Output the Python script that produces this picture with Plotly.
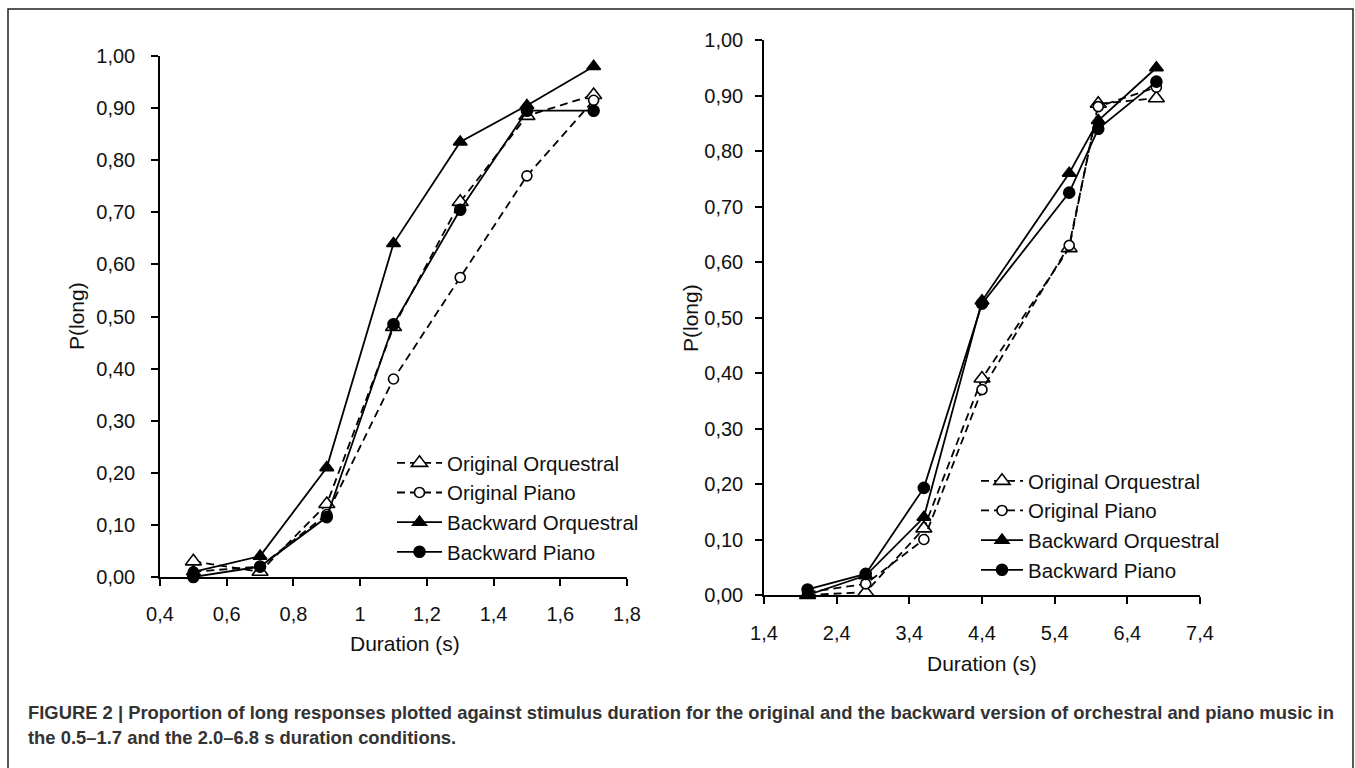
import plotly.graph_objects as go

W, H = 1355, 768

# ---------------- data ----------------
short_durations = [0.5, 0.7, 0.9, 1.1, 1.3, 1.5, 1.7]
short_orig_orq = [0.03, 0.01, 0.14, 0.48, 0.72, 0.885, 0.925]
short_orig_piano = [0.01, 0.02, 0.12, 0.38, 0.575, 0.77, 0.915]
short_back_orq = [0.01, 0.04, 0.21, 0.64, 0.835, 0.905, 0.98]
short_back_piano = [0.0, 0.02, 0.115, 0.485, 0.705, 0.895, 0.895]

long_durations = [2.0, 2.8, 3.6, 4.4, 5.6, 6.0, 6.8]
long_orig_orq = [0.0, 0.005, 0.12, 0.39, 0.625, 0.885, 0.895]
long_orig_piano = [0.005, 0.02, 0.10, 0.37, 0.63, 0.88, 0.915]
long_back_orq = [0.0, 0.035, 0.14, 0.53, 0.76, 0.855, 0.95]
long_back_piano = [0.01, 0.038, 0.193, 0.525, 0.725, 0.84, 0.925]

series_names = ["Original Orquestral", "Original Piano", "Backward Orquestral", "Backward Piano"]

left_xticks = [0.4, 0.6, 0.8, 1.0, 1.2, 1.4, 1.6, 1.8]
left_xticktext = ["0,4", "0,6", "0,8", "1", "1,2", "1,4", "1,6", "1,8"]
right_xticks = [1.4, 2.4, 3.4, 4.4, 5.4, 6.4, 7.4]
right_xticktext = ["1,4", "2,4", "3,4", "4,4", "5,4", "6,4", "7,4"]
yticks = [0.0, 0.1, 0.2, 0.3, 0.4, 0.5, 0.6, 0.7, 0.8, 0.9, 1.0]
yticktext = ["0,00", "0,10", "0,20", "0,30", "0,40", "0,50", "0,60", "0,70", "0,80", "0,90", "1,00"]

caption_line1 = ("FIGURE 2 | Proportion of long responses plotted against stimulus duration for the original "
                 "and the backward version of orchestral and piano music in")
caption_line2 = "the 0.5–1.7 and the 2.0–6.8 s duration conditions."

# ---------------- styles ----------------
FONT = "Liberation Sans, Arial, Helvetica, sans-serif"
styles = [
    dict(dash="8px,5px", symbol="triangle-up", size=14, fill="white"),
    dict(dash="8px,5px", symbol="circle", size=10, fill="white"),
    dict(dash="solid", symbol="triangle-up", size=12, fill="black"),
    dict(dash="solid", symbol="circle", size=11, fill="black"),
]

fig = go.Figure()

def add_series(xs, ys, idx, xaxis, yaxis, legend):
    st = styles[idx]
    fig.add_trace(go.Scatter(
        x=xs, y=ys, mode="lines+markers", name=series_names[idx],
        xaxis=xaxis, yaxis=yaxis, legend=legend,
        line=dict(color="black", width=1.8, dash=st["dash"]),
        marker=dict(symbol=st["symbol"], size=st["size"], color=st["fill"],
                    line=dict(color="black", width=1.6)),
        cliponaxis=False,
    ))

for i, ys in enumerate([short_orig_orq, short_orig_piano, short_back_orq, short_back_piano]):
    add_series(short_durations, ys, i, "x", "y", "legend")
for i, ys in enumerate([long_orig_orq, long_orig_piano, long_back_orq, long_back_piano]):
    add_series(long_durations, ys, i, "x2", "y2", "legend2")

axis_common = dict(
    showline=True, linecolor="black", linewidth=1.5,
    ticks="outside", ticklen=7, tickwidth=1.5, tickcolor="black",
    showgrid=False, zeroline=False,
    tickfont=dict(family=FONT, size=20, color="#111"),
)

def px_x(p):
    return p / W

def px_y(p):
    return 1 - p / H

legend_font = dict(family=FONT, size=20.5, color="#111")

fig.update_layout(
    width=W, height=H,
    margin=dict(l=0, r=0, t=0, b=0),
    paper_bgcolor="white", plot_bgcolor="white",
    template="none",
    font=dict(family=FONT, size=20, color="#111"),
    xaxis=dict(domain=[px_x(160), px_x(627)], range=[0.4, 1.8], tickvals=left_xticks,
               ticktext=left_xticktext, anchor="y", ticklabelstandoff=11, **axis_common),
    yaxis=dict(domain=[px_y(577), px_y(56)], range=[0, 1.0], tickvals=yticks,
               ticktext=yticktext, anchor="x", ticklabelstandoff=12, **axis_common),
    xaxis2=dict(domain=[px_x(764), px_x(1200)], range=[1.4, 7.4], tickvals=right_xticks,
                ticktext=right_xticktext, anchor="y2", ticklabelstandoff=12, **axis_common),
    yaxis2=dict(domain=[px_y(595), px_y(40)], range=[0, 1.0], tickvals=yticks,
                ticktext=yticktext, anchor="x2", ticklabelstandoff=8, **axis_common),
    legend=dict(x=px_x(392), y=px_y(443), xanchor="left", yanchor="top",
                bgcolor="rgba(0,0,0,0)", borderwidth=0, itemwidth=45,
                font=legend_font),
    legend2=dict(x=px_x(976), y=px_y(461), xanchor="left", yanchor="top",
                 bgcolor="rgba(0,0,0,0)", borderwidth=0, itemwidth=42,
                 font=legend_font),
    showlegend=True,
)

annotations = [
    dict(text="P(long)", x=px_x(77), y=px_y(316), textangle=-90),
    dict(text="P(long)", x=px_x(690), y=px_y(318), textangle=-90),
    dict(text="Duration (s)", x=px_x(405), y=px_y(643)),
    dict(text="Duration (s)", x=px_x(982), y=px_y(663)),
]
for a in annotations:
    fig.add_annotation(xref="paper", yref="paper", showarrow=False,
                       xanchor="center", yanchor="middle",
                       font=dict(family=FONT, size=21, color="#111"), **a)

for txt, yc in [(caption_line1, 712), (caption_line2, 737)]:
    fig.add_annotation(xref="paper", yref="paper", showarrow=False,
                       x=px_x(26), y=px_y(yc), xanchor="left", yanchor="middle",
                       text=f"<b>{txt}</b>",
                       font=dict(family=FONT, size=18.4, color="#333"))

fig.add_shape(type="rect", xref="paper", yref="paper",
              x0=px_x(8), x1=px_x(1353), y0=-0.05, y1=px_y(9),
              line=dict(color="#222", width=1.5), fillcolor="rgba(0,0,0,0)", layer="below")

fig.write_html("out.html")
